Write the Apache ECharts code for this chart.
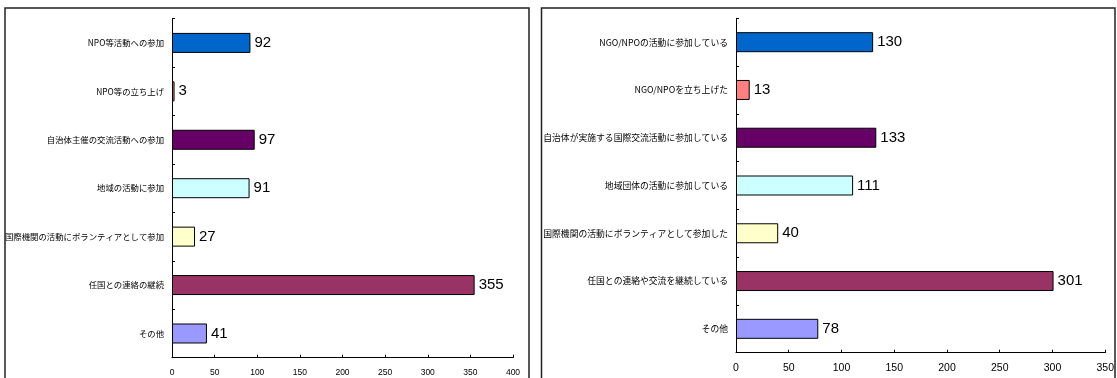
<!DOCTYPE html>
<html>
<head>
<meta charset="utf-8">
<script src="https://cdn.jsdelivr.net/npm/echarts@6/dist/echarts.min.js"></script>
<style>
  html, body { margin: 0; padding: 0; background: #fff; }
  #chart { width: 1117px; height: 378px; }
</style>
</head>
<body>
<div id="chart"></div>
<script>
// Left panel: activities after returning (earlier survey)
const leftCategories = [
  'NPO等活動への参加',
  'NPO等の立ち上げ',
  '自治体主催の交流活動への参加',
  '地域の活動に参加',
  '国際機関の活動にボランティアとして参加',
  '任国との連絡の継続',
  'その他'
];
const leftValues = [92, 3, 97, 91, 27, 355, 41];
const leftTicks = { min: 0, max: 400, interval: 50 };

// Right panel: activities after returning (later survey)
const rightCategories = [
  'NGO/NPOの活動に参加している',
  'NGO/NPOを立ち上げた',
  '自治体が実施する国際交流活動に参加している',
  '地域団体の活動に参加している',
  '国際機関の活動にボランティアとして参加した',
  '任国との連絡や交流を継続している',
  'その他'
];
const rightValues = [130, 13, 133, 111, 40, 301, 78];
const rightTicks = { min: 0, max: 350, interval: 50 };

// One fill colour per row, shared by both panels
const barColors = ['#0066CC', '#FF8080', '#660066', '#CCFFFF', '#FFFFCC', '#993366', '#9999FF'];

const LATIN = '"Liberation Sans", Arial, sans-serif';
const CJK = '"Noto Sans CJK JP", "Noto Sans", sans-serif';

function makeX(idx, ticks, fontSize) {
  return {
    type: 'value', gridIndex: idx,
    min: ticks.min, max: ticks.max, interval: ticks.interval,
    axisLine: { show: true, lineStyle: { color: '#000', width: 1 } },
    axisTick: { show: true, inside: true, length: 3, lineStyle: { color: '#000' } },
    splitLine: { show: false },
    axisLabel: { color: '#000', fontFamily: LATIN, fontSize: fontSize, margin: 10 }
  };
}
function makeY(idx, cats, fontSize) {
  return {
    type: 'category', gridIndex: idx, data: cats, inverse: true,
    axisLine: { show: true, lineStyle: { color: '#000', width: 1 } },
    axisTick: { show: true, inside: true, length: 3, lineStyle: { color: '#000' } },
    axisLabel: { color: '#000', fontFamily: CJK, fontSize: fontSize, margin: 8 }
  };
}
function makeSeries(idx, values) {
  return {
    type: 'bar', xAxisIndex: idx, yAxisIndex: idx,
    barWidth: 20,
    data: values.map((v, i) => ({
      value: v,
      itemStyle: { color: barColors[i], borderColor: '#000', borderWidth: 1 }
    })),
    label: {
      show: true, position: 'right', distance: 4,
      color: '#000', fontFamily: LATIN, fontSize: 15
    },
    silent: true
  };
}

const chart = echarts.init(document.getElementById('chart'), null, { renderer: 'canvas' });
chart.setOption({
  animation: false,
  backgroundColor: '#fff',
  grid: [
    { left: 172, top: 18.7, width: 341, height: 339 },
    { left: 736, top: 18.3, width: 370.7, height: 334.4 }
  ],
  xAxis: [makeX(0, leftTicks, 8.5), makeX(1, rightTicks, 10.5)],
  yAxis: [makeY(0, leftCategories, 8.4), makeY(1, rightCategories, 8.8)],
  series: [makeSeries(0, leftValues), makeSeries(1, rightValues)],
  graphic: [
    { type: 'rect', shape: { x: 5, y: 8, width: 524, height: 400 },
      style: { fill: 'none', stroke: '#222', lineWidth: 1.5 }, z: 10, silent: true },
    { type: 'rect', shape: { x: 541.5, y: 8, width: 573.5, height: 400 },
      style: { fill: 'none', stroke: '#222', lineWidth: 1.5 }, z: 10, silent: true }
  ]
});
</script>
</body>
</html>
